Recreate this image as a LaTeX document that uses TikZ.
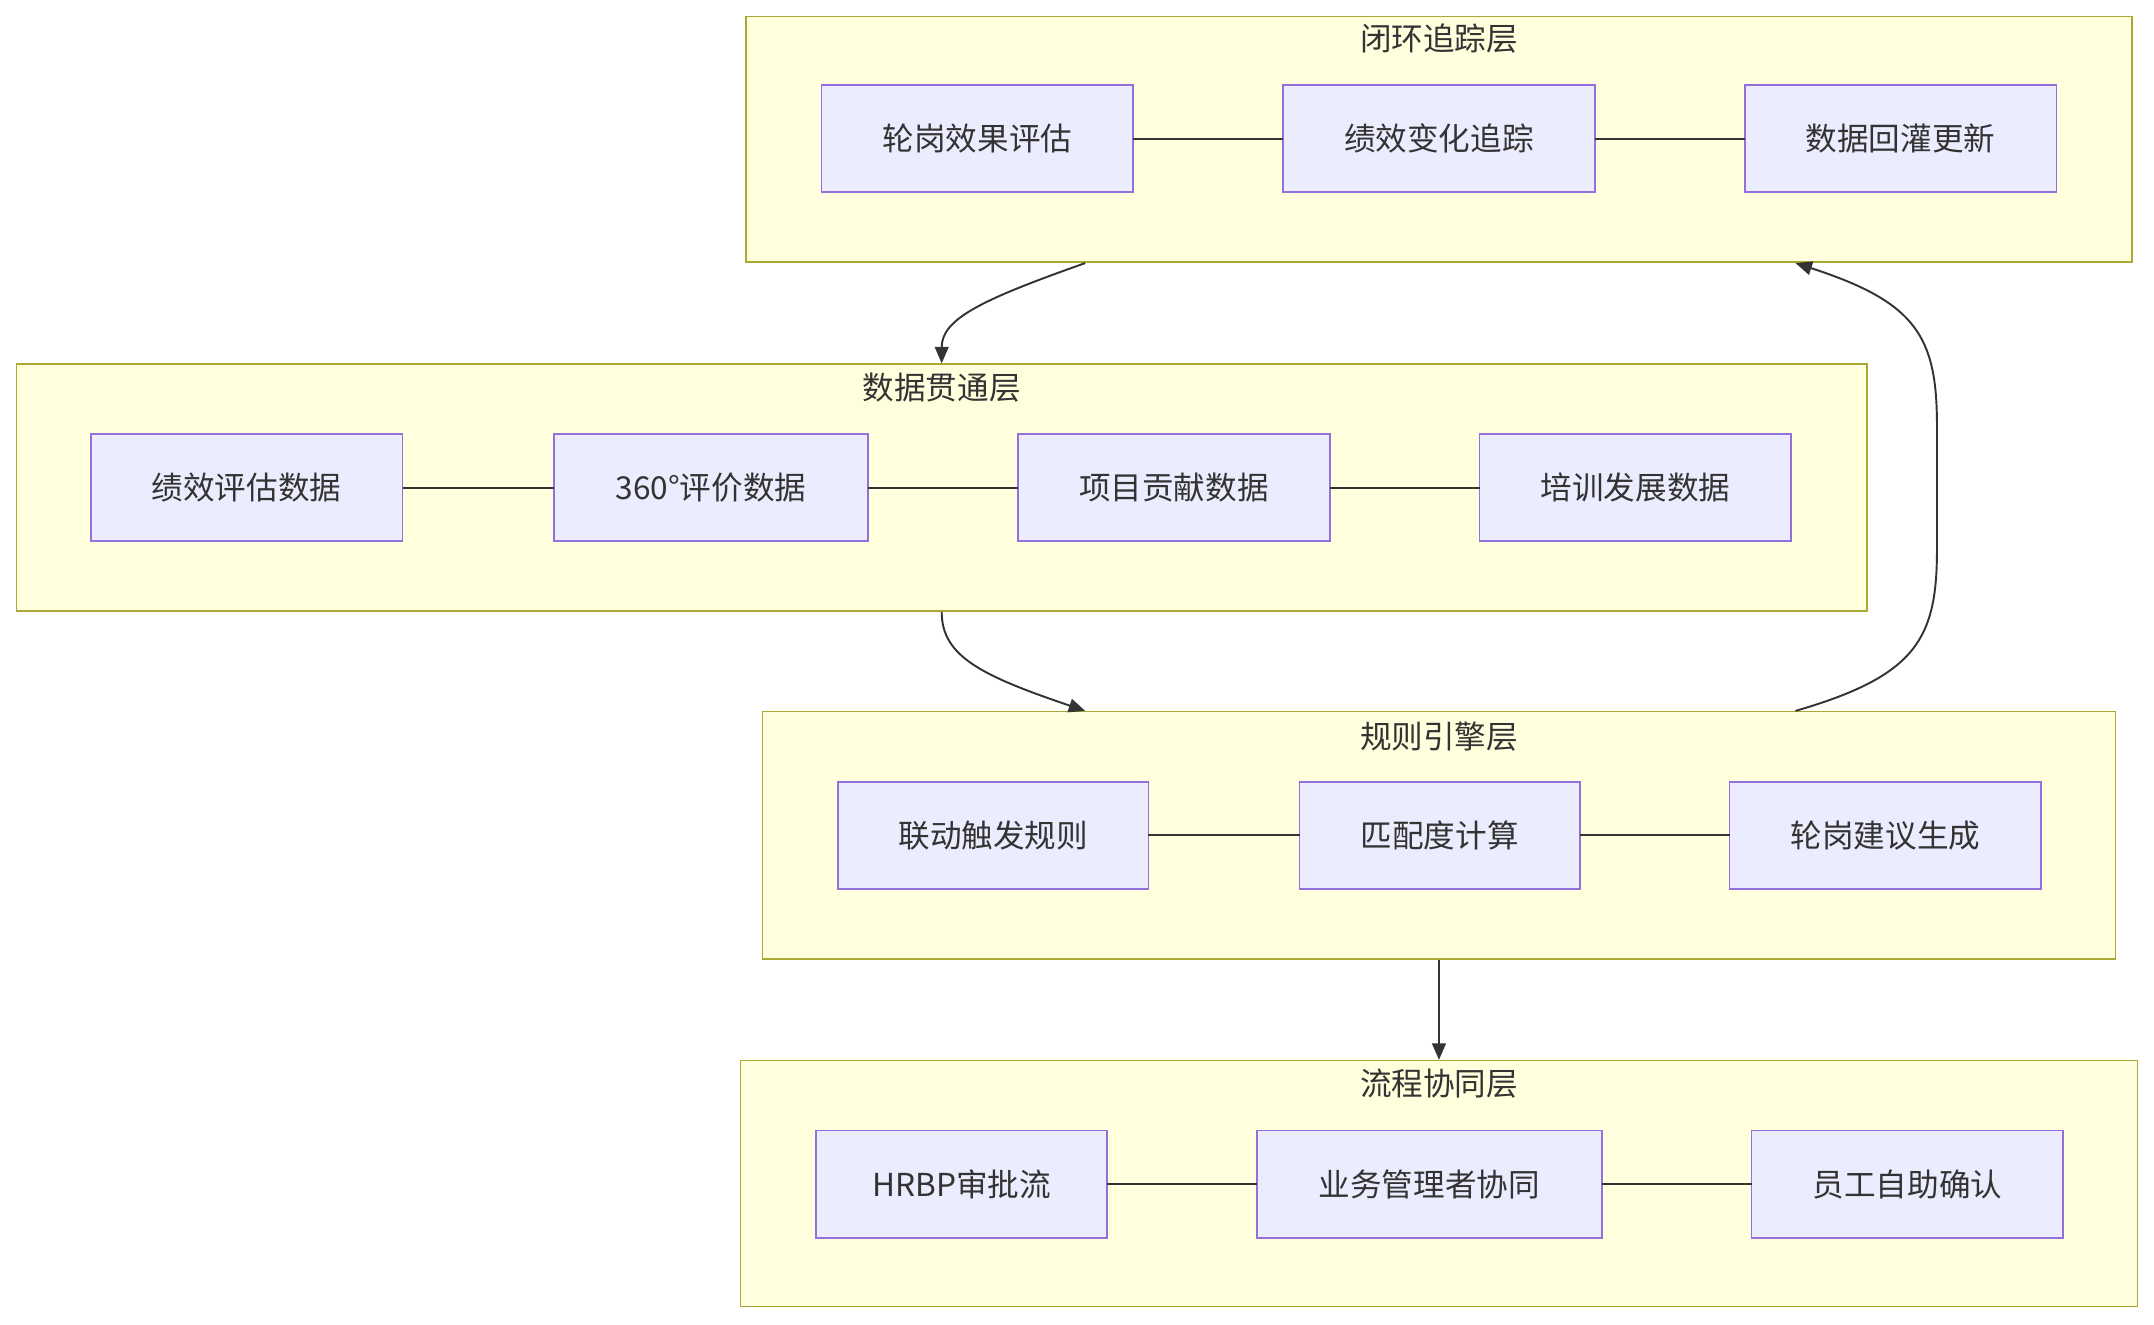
\documentclass[tikz,border=0pt]{standalone}
\usepackage{fontspec}
\setmainfont{Noto Sans CJK SC}
\usetikzlibrary{arrows.meta}
\definecolor{clfill}{HTML}{FFFFDE}
\definecolor{clline}{HTML}{AAAA33}
\definecolor{ndfill}{HTML}{ECECFF}
\definecolor{ndline}{HTML}{9370DB}
\definecolor{txt}{HTML}{333333}
\begin{document}
\begin{tikzpicture}[x=0.5pt,y=-0.5pt,
  every node/.style={font=\fontsize{11.5}{14}\selectfont, text=txt, inner sep=0pt, outer sep=0pt},
  cluster/.style={draw=clline, fill=clfill, line width=0.65pt, rectangle},
  box/.style={draw=ndline, fill=ndfill, line width=0.65pt, rectangle, minimum height=39pt},
  title/.style={anchor=center},
  link/.style={draw=txt, line width=0.7pt},
  arr/.style={draw=txt, line width=0.7pt, -{Triangle[length=6pt,width=5pt]}}]
\useasboundingbox (0,0) rectangle (1568,964);
\fill[white] (0,0) rectangle (1568,964);

% clusters
\node[cluster, minimum width=504.5pt, minimum height=89.5pt] (c1) at (1047.5,101.5) {};
\node[cluster, minimum width=673.5pt, minimum height=90pt] (c2) at (685.5,355) {};
\node[cluster, minimum width=492.5pt, minimum height=90pt] (c3) at (1047.5,608) {};
\node[cluster, minimum width=508.5pt, minimum height=89.5pt] (c4) at (1047.5,861.5) {};

\node[title] (t1) at (1047.5,28) {闭环追踪层};
\node[title] (t2) at (685.5,282) {数据贯通层};
\node[title] (t3) at (1047.5,536) {规则引擎层};
\node[title] (t4) at (1047.5,789) {流程协同层};

% layer 1
\node[box, minimum width=113.5pt] (a1) at (711.5,101) {轮岗效果评估};
\node[box, minimum width=113.5pt] (a2) at (1047.5,101) {绩效变化追踪};
\node[box, minimum width=113.5pt] (a3) at (1383.5,101) {数据回灌更新};
% layer 2
\node[box, minimum width=113.5pt] (b1) at (179.5,355) {绩效评估数据};
\node[box, minimum width=114.5pt] (b2) at (517.5,355) {360°评价数据};
\node[box, minimum width=113.5pt] (b3) at (854.5,355) {项目贡献数据};
\node[box, minimum width=113.5pt] (b4) at (1190.5,355) {培训发展数据};
% layer 3
\node[box, minimum width=113pt] (r1) at (723,608) {联动触发规则};
\node[box, minimum width=102pt] (r2) at (1048,608) {匹配度计算};
\node[box, minimum width=113.5pt] (r3) at (1372.5,608) {轮岗建议生成};
% layer 4
\node[box, minimum width=106pt] (d1) at (700,862) {HRBP审批流};
\node[box, minimum width=125.5pt] (d2) at (1040.5,862) {业务管理者协同};
\node[box, minimum width=113.5pt] (d3) at (1388.5,862) {员工自助确认};

% links inside clusters
\draw[link] (a1) -- (a2);
\draw[link] (a2) -- (a3);
\draw[link] (b1) -- (b2);
\draw[link] (b2) -- (b3);
\draw[link] (b3) -- (b4);
\draw[link] (r1) -- (r2);
\draw[link] (r2) -- (r3);
\draw[link] (d1) -- (d2);
\draw[link] (d2) -- (d3);

% inter-cluster connectors
\coordinate (e1a) at (790,191.5);
\coordinate (e1b) at (685.5,264.5);
\coordinate (e2a) at (685.5,445.5);
\coordinate (e2b) at (790,517.5);
\coordinate (e3a) at (1307,517.5);
\coordinate (e3b) at (1307,191.5);
\coordinate (e4a) at (1047.5,698.5);
\coordinate (e4b) at (1047.5,771.5);

\draw[arr] (e1a) .. controls (715,218) and (685.5,232) .. (e1b);
\draw[arr] (e2a) .. controls (685.5,478) and (715,492) .. (e2b);
\draw[arr] (e3a) .. controls (1395,492) and (1410,465) .. (1410,400)
   -- (1410,310) .. controls (1410,245) and (1395,220) .. (e3b);
\draw[arr] (e4a) -- (e4b);
\end{tikzpicture}
\end{document}
